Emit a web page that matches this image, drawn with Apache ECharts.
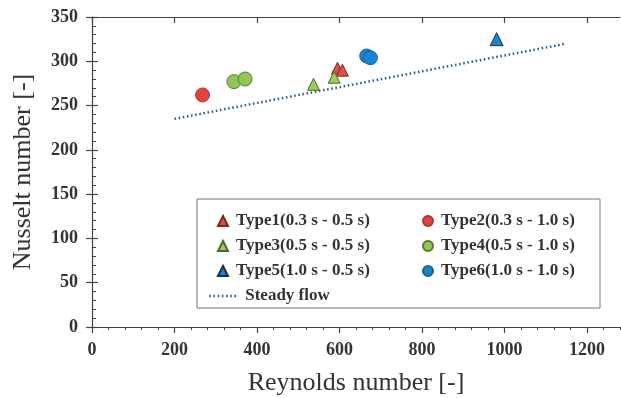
<!DOCTYPE html>
<html>
<head>
<meta charset="utf-8">
<script src="https://cdn.jsdelivr.net/npm/echarts@6/dist/echarts.min.js"></script>
<style>
  html, body { margin: 0; padding: 0; background: #fff; }
  #main { width: 621px; height: 398px; }
</style>
</head>
<body>
<div id="main"></div>
<script>
// Reynolds number / Nusselt number pairs
const type1 = [[595, 292], [607, 290]];
const type2 = [[268, 262]];
const type3 = [[537, 274], [587, 282]];
const type4 = [[344, 277], [371, 280]];
const type5 = [[981, 325]];
const type6 = [[666, 306], [675, 304]];
const steadyFlow = [[200, 235], [1150, 320]];

const xMajorTicks = [0, 200, 400, 600, 800, 1000, 1200];
const yMajorTicks = [0, 50, 100, 150, 200, 250, 300, 350];

const serif = '"Liberation Serif", "DejaVu Serif", serif';
const axisColor = '#444';
const dotStyle = { color: '#2a6096', width: 2.5, type: [1.6, 2.6], cap: 'butt' };

const chart = echarts.init(document.getElementById('main'));

function scatter(name, data, symbol, fill, border, size) {
  return {
    name: name,
    type: 'scatter',
    data: data,
    symbol: symbol,
    symbolSize: size,
    itemStyle: { color: fill, borderColor: border, borderWidth: 1, opacity: 1 },
    z: 5
  };
}

const legendText = {
  fontFamily: serif,
  fontWeight: 'bold',
  fontSize: 17,
  color: '#333',
  lineHeight: 18,
  padding: [0, 0, 0, 3]
};

const option = {
  animation: false,
  grid: { left: 92, right: 1, top: 17, bottom: 71, outerBoundsMode: 'none' },
  graphic: [{
    type: 'rect',
    shape: { x: 197, y: 199, width: 403, height: 109 },
    style: { fill: '#fff', stroke: '#777', lineWidth: 1 },
    z: 1
  }],
  legend: [
    {
      data: ['Type1(0.3 s - 0.5 s)', 'Type3(0.5 s - 0.5 s)', 'Type5(1.0 s - 0.5 s)'],
      orient: 'vertical', left: 212, top: 207, itemGap: 7,
      itemWidth: 10, itemHeight: 10, textStyle: legendText, z: 10
    },
    {
      data: ['Type2(0.3 s - 1.0 s)', 'Type4(0.5 s - 1.0 s)', 'Type6(1.0 s - 1.0 s)'],
      orient: 'vertical', left: 417, top: 207, itemGap: 7,
      itemWidth: 10, itemHeight: 10, textStyle: legendText, z: 10
    },
    {
      data: ['Steady flow'],
      orient: 'vertical', left: 203, top: 282,
      itemWidth: 28, itemHeight: 10, textStyle: legendText,
      itemStyle: { opacity: 0 },
      lineStyle: dotStyle,
      z: 10
    }
  ],
  xAxis: [
    {
      type: 'value', min: 0, max: 1280, interval: 200,
      name: 'Reynolds number [-]', nameLocation: 'middle', nameGap: 43,
      nameTextStyle: { fontFamily: serif, fontSize: 26, color: '#333' },
      axisLine: { lineStyle: { color: axisColor, width: 1.2 } },
      axisTick: { customValues: xMajorTicks, length: 6, lineStyle: { color: axisColor, width: 1.2 } },
      axisLabel: {
        customValues: xMajorTicks, margin: 14,
        formatter: v => String(v),
        fontFamily: serif, fontWeight: 'bold', fontSize: 18, color: '#333'
      },
      splitLine: { show: false }
    },
    {
      type: 'value', min: 0, max: 1280, interval: 40,
      axisLine: { show: false },
      axisTick: { inside: true, length: 3, lineStyle: { color: axisColor, width: 1 } },
      axisLabel: { show: false }, splitLine: { show: false }
    },
    {
      type: 'value', min: 0, max: 1280, interval: 200,
      axisLine: { show: false },
      axisTick: { inside: true, customValues: xMajorTicks, length: 6, lineStyle: { color: axisColor, width: 1.2 } },
      axisLabel: { show: false }, splitLine: { show: false }
    },
    {
      type: 'value', min: 0, max: 1280, position: 'top',
      axisLine: { show: true, lineStyle: { color: axisColor, width: 1.2 } },
      axisTick: { show: false }, axisLabel: { show: false }, splitLine: { show: false }
    }
  ],
  yAxis: [
    {
      type: 'value', min: 0, max: 350, interval: 50,
      name: 'Nusselt number [-]', nameLocation: 'middle', nameGap: 56,
      nameTextStyle: { fontFamily: serif, fontSize: 26, color: '#333' },
      axisLine: { show: true, lineStyle: { color: axisColor, width: 1.2 } },
      axisTick: { show: true, length: 6, lineStyle: { color: axisColor, width: 1.2 } },
      axisLabel: {
        customValues: yMajorTicks, margin: 14,
        formatter: v => String(v),
        fontFamily: serif, fontWeight: 'bold', fontSize: 18, color: '#333'
      },
      splitLine: { show: false }
    },
    {
      type: 'value', min: 0, max: 350, interval: 50, position: 'left',
      axisLine: { show: false },
      axisTick: { show: true, inside: true, length: 6, lineStyle: { color: axisColor, width: 1.2 } },
      minorTick: { show: true, splitNumber: 5, length: 4, lineStyle: { color: axisColor, width: 1 } },
      axisLabel: { show: false }, splitLine: { show: false }
    }
  ],
  series: [
    scatter('Type1(0.3 s - 0.5 s)', type1, 'triangle', '#de4f45', '#7a2a22', 12),
    scatter('Type2(0.3 s - 1.0 s)', type2, 'circle', '#e2453e', '#a83a32', 14),
    scatter('Type3(0.5 s - 0.5 s)', type3, 'triangle', '#9ccc5c', '#4d6a2c', 12),
    scatter('Type4(0.5 s - 1.0 s)', type4, 'circle', '#94c653', '#55792d', 14),
    scatter('Type5(1.0 s - 0.5 s)', type5, 'triangle', '#1b86c9', '#10334f', 13),
    scatter('Type6(1.0 s - 1.0 s)', type6, 'circle', '#1786d0', '#1f5f93', 14),
    {
      name: 'Steady flow',
      type: 'line',
      data: steadyFlow,
      symbol: 'none',
      lineStyle: dotStyle,
      itemStyle: { color: '#2a6096' },
      z: 3
    }
  ]
};

chart.setOption(option);
</script>
</body>
</html>
